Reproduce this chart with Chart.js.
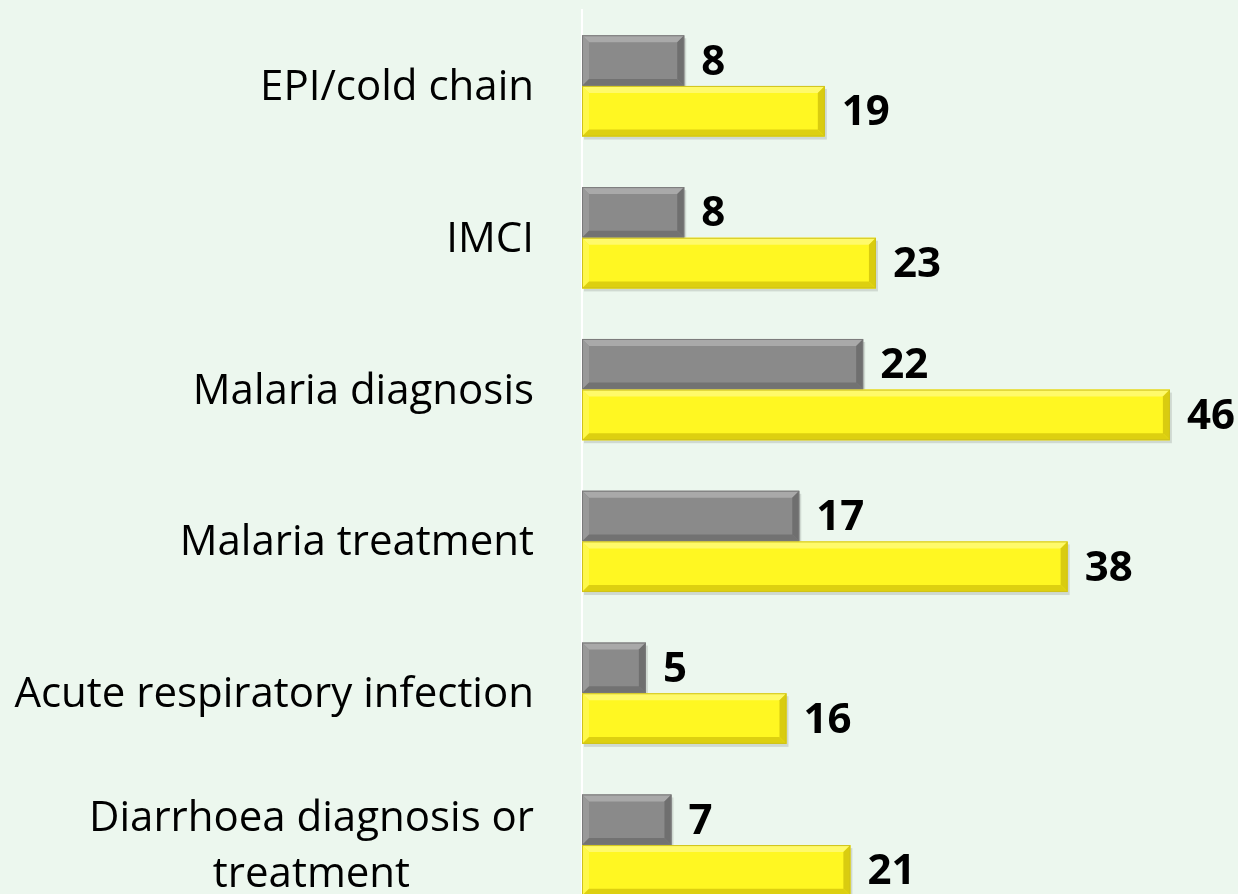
<!DOCTYPE html>
<html>
<head>
<meta charset="utf-8">
<script src="https://cdn.jsdelivr.net/npm/chart.js@4/dist/chart.umd.min.js"></script>
<style>
  html, body { margin: 0; padding: 0; background: #ECF7EE; overflow: hidden; }
  #c { display: block; }
</style>
</head>
<body>
<canvas id="c" width="1238" height="924"></canvas>
<script>
const categories = [
  ["EPI/cold chain"],
  ["IMCI"],
  ["Malaria diagnosis"],
  ["Malaria treatment"],
  ["Acute respiratory infection"],
  ["Diarrhoea diagnosis or", "treatment"]
];
const seriesGrey = [8, 8, 22, 17, 5, 7];
const seriesYellow = [19, 23, 46, 38, 16, 21];
const seriesNames = ["Series 1", "Series 2"];

const LABEL_FONT = '42px "Open Sans", "DejaVu Sans", sans-serif';
const VALUE_FONT = 'bold 42px "Open Sans", "DejaVu Sans", sans-serif';

function shade(ctx, x1, y1, x2, y2, x3, y3, x4, y4, color) {
  ctx.beginPath();
  ctx.moveTo(x1, y1); ctx.lineTo(x2, y2); ctx.lineTo(x3, y3); ctx.lineTo(x4, y4);
  ctx.closePath();
  ctx.fillStyle = color;
  ctx.fill();
}

const bevelPlugin = {
  id: 'bevel',
  beforeDatasetsDraw(chart) {
    const ctx = chart.ctx;
    ctx.save();
    chart.data.datasets.forEach((ds, di) => {
      chart.getDatasetMeta(di).data.forEach(bar => {
        const left = Math.min(bar.base, bar.x), right = Math.max(bar.base, bar.x);
        const top = bar.y - bar.height / 2, bottom = bar.y + bar.height / 2;
        ctx.fillStyle = 'rgba(0,0,0,0.12)';
        ctx.fillRect(left + 2, top + 3, right - left, bottom - top);
      });
    });
    ctx.restore();
  },
  afterDatasetsDraw(chart) {
    const ctx = chart.ctx;
    ctx.save();
    chart.data.datasets.forEach((ds, di) => {
      const pal = ds.bevel;
      chart.getDatasetMeta(di).data.forEach(bar => {
        const l = Math.min(bar.base, bar.x), r = Math.max(bar.base, bar.x);
        const t = bar.y - bar.height / 2, b = bar.y + bar.height / 2;
        const s = 7;
        shade(ctx, l, t, r, t, r - s, t + s, l + s, t + s, pal.top);
        shade(ctx, l, t, l + s, t + s, l + s, b - s, l, b, pal.left);
        shade(ctx, r, t, r, b, r - s, b - s, r - s, t + s, pal.right);
        shade(ctx, l, b, l + s, b - s, r - s, b - s, r, b, pal.bottom);
        ctx.strokeStyle = pal.edge;
        ctx.lineWidth = 1;
        ctx.strokeRect(l + 0.5, t + 0.5, r - l - 1, b - t - 1);
      });
    });
    ctx.restore();
  },
  afterDraw(chart) {
    const ctx = chart.ctx;
    ctx.save();
    ctx.font = VALUE_FONT;
    ctx.fillStyle = '#000';
    ctx.textAlign = 'left';
    ctx.textBaseline = 'middle';
    chart.data.datasets.forEach((ds, di) => {
      chart.getDatasetMeta(di).data.forEach((bar, i) => {
        ctx.fillText(String(ds.data[i]), bar.x + 17, bar.y + 2);
      });
    });
    const yScale = chart.scales.y;
    ctx.font = LABEL_FONT;
    ctx.fillStyle = '#000';
    ctx.textBaseline = 'middle';
    const rightEdge = chart.chartArea.left - 48;
    const lineH = 56;
    chart.data.labels.forEach((lab, i) => {
      const lines = Array.isArray(lab) ? lab : [lab];
      const cy = yScale.getPixelForValue(i);
      let widest = 0;
      lines.forEach(t => { widest = Math.max(widest, ctx.measureText(t).width); });
      const cx = rightEdge - widest / 2;
      ctx.textAlign = 'center';
      lines.forEach((t, k) => {
        const y = cy + (k - (lines.length - 1) / 2) * lineH + 2;
        ctx.fillText(t, cx, y);
      });
    });
    ctx.restore();
  }
};

new Chart(document.getElementById('c'), {
  type: 'bar',
  data: {
    labels: categories,
    datasets: [
      {
        label: seriesNames[0],
        data: seriesGrey,
        backgroundColor: '#8a8a8a',
        bevel: { top: '#a9a9a9', left: '#999999', right: '#6f6f6f', bottom: '#727272', edge: '#7a7a7a' },
        borderWidth: 0,
        categoryPercentage: 0.667,
        barPercentage: 1.0
      },
      {
        label: seriesNames[1],
        data: seriesYellow,
        backgroundColor: '#fff722',
        bevel: { top: '#fffa6a', left: '#fff84a', right: '#d9cc10', bottom: '#ddd010', edge: '#cfc21a' },
        borderWidth: 0,
        categoryPercentage: 0.667,
        barPercentage: 1.0
      }
    ]
  },
  options: {
    indexAxis: 'y',
    responsive: false,
    animation: false,
    layout: { padding: { top: 10, right: 17, bottom: 3, left: 0 } },
    plugins: {
      legend: { display: false },
      tooltip: { enabled: false }
    },
    scales: {
      x: {
        display: false,
        min: 0,
        max: 50
      },
      y: {
        display: true,
        grid: { display: false, drawTicks: false },
        border: { display: true, color: '#ffffff', width: 2 },
        ticks: { display: false },
        afterFit(scale) { scale.width = 582; }
      }
    }
  },
  plugins: [bevelPlugin]
});
</script>
</body>
</html>
